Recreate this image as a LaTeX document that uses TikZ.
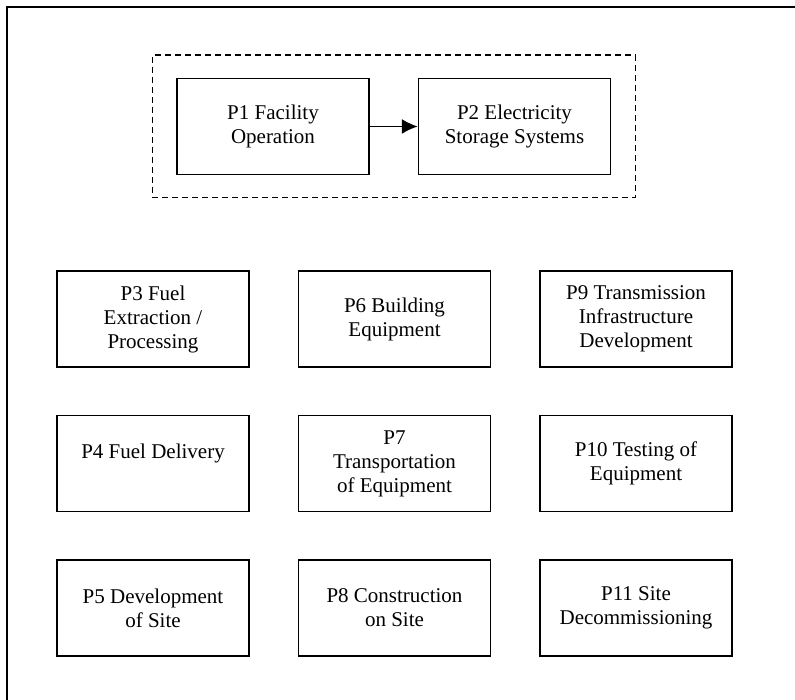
\documentclass[tikz,border=0pt]{standalone}
\usepackage{fontspec}
\setmainfont{Liberation Serif}
\usepackage{tikz}
\usetikzlibrary{positioning,arrows.meta,fit}

\begin{document}
\begin{tikzpicture}[x=1pt,y=1pt,node distance=47pt and 48pt,thick]

  \tikzstyle{proc}=[rectangle,draw,line width=1.5pt,minimum width=192pt,minimum height=96pt,inner sep=0pt,align=center,font=\fontsize{21}{24}\selectfont]

  \useasboundingbox (0,0) rectangle (795,700);
  \clip (0,0) rectangle (795,700);

  % outer frame
  \draw[line width=1.6pt] (7,-10) -- (7,693) -- (810,693);

  % storage group
  \node[proc] (p1) at (273,573.5) {P1 Facility\\Operation};
  \node[proc] (p2) [right=of p1] {P2 Electricity\\Storage Systems};
  \draw[-{Latex[length=16pt,width=15pt]},line width=1.5pt] (p1) -- (p2);
  \node[draw,dash pattern=on 6pt off 4pt,line width=1.5pt,fit=(p1)(p2),inner xsep=24pt,inner ysep=22.5pt] (grp) {};

  % other processes
  \node[proc] (p3) at (153,381) {P3 Fuel\\Extraction /\\Processing};
  \node[proc] (p4) [below=of p3] {P4 Fuel Delivery\\\mbox{}};
  \node[proc] (p5) [below=of p4] {P5 Development\\of Site};

  \node[proc] (p6) [right=of p3] {P6 Building\\Equipment};
  \node[proc] (p7) [below=of p6] {P7\\Transportation\\of Equipment};
  \node[proc] (p8) [below=of p7] {P8 Construction\\on Site};

  \node[proc] (p9) [right=of p6] {P9 Transmission\\Infrastructure\\Development};
  \node[proc] (p10) [below=of p9] {P10 Testing of\\Equipment};
  \node[proc] (p11) [below=of p10] {P11 Site\\Decommissioning};

\end{tikzpicture}
\end{document}
